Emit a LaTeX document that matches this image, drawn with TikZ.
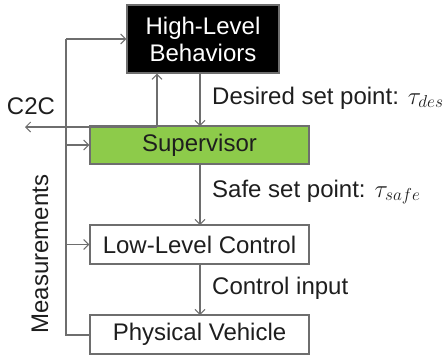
\documentclass[tikz,border=0pt]{standalone}
\usepackage{fontspec}
\setmainfont{Liberation Sans}
\usetikzlibrary{arrows.meta}
\definecolor{boxgreen}{HTML}{8DCB4A}
\definecolor{linegray}{HTML}{6E6E6E}
\definecolor{txt}{HTML}{1E1E1E}
\begin{document}
\begin{tikzpicture}[x=1pt,y=-1pt,
  every node/.style={font=\fontsize{24}{27}\selectfont, text=txt},
  blk/.style={draw=linegray, line width=1.2pt, minimum height=39pt, inner sep=0pt},
  conn/.style={draw=linegray, line width=1.1pt},
  arr/.style={conn, -{Straight Barb[length=5pt,width=10pt,line width=1pt]}},
  lbl/.style={anchor=west, inner sep=0pt}]
\useasboundingbox (0,0) rectangle (446,357);
\node[blk, fill=black, text=white, minimum width=152pt, minimum height=68pt, align=center,
  font=\fontsize{24}{27}\selectfont] (hl) at (203,39) {High-Level\\Behaviors};
\node[blk, fill=boxgreen, minimum width=219pt, minimum height=38pt] (sup) at (199.5,145) {Supervisor};
\node[blk, fill=white, minimum width=219pt] (llc) at (199.5,244.5) {Low-Level Control};
\node[blk, fill=white, minimum width=219pt] (pv) at (199.5,334.5) {Physical Vehicle};
\node[inner sep=0pt] (c2c) at (31,106) {C2C};
\node[rotate=90, inner sep=0pt] (meas) at (40,254) {Measurements};
\node[lbl] (ldes) at (212,98) {Desired set point: $\tau_{des}$};
\node[lbl] (lsafe) at (212,192) {Safe set point: $\tau_{safe}$};
\node[lbl] (lci) at (212,288) {Control input};
\coordinate (lt) at (66,39);
\coordinate (lb) at (66,335);
\coordinate (cx) at (157,127);
\coordinate (cend) at (25,127);
% feedback loop
\draw[conn] (pv.west |- lb) -- (lb) -- (lt);
\draw[arr] (lt) -- (hl.west |- lt);
\draw[arr] (66,145) -- (sup.west);
\draw[arr] (66,244.5) -- (llc.west);
% C2C
\draw[arr] (cx) -- (cend);
\draw[arr] (cx) -- (cx |- hl.south);
% downward chain
\draw[arr] (200,73) -- (200,126);
\draw[arr] (200,164) -- (200,225);
\draw[arr] (200,264) -- (200,315);
\end{tikzpicture}
\end{document}
